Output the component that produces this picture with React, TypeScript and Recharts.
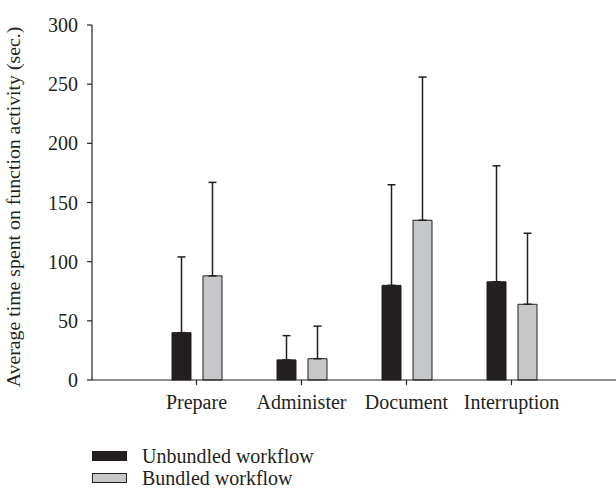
import React from 'react';
import { BarChart, Bar, XAxis, YAxis, ErrorBar, Legend } from 'recharts';

const categories = ['Prepare', 'Administer', 'Document', 'Interruption'];
const unbundledMeans = [40, 17, 80, 83];
const bundledMeans = [88, 18, 135, 64];
const unbundledSD = [64, 20.5, 85, 98];
const bundledSD = [79, 27.5, 121, 60];
const yTicks = [0, 50, 100, 150, 200, 250, 300];

const seriesNames = ['Unbundled workflow', 'Bundled workflow'];
const INK = '#231f20';
const GRAY = '#c6c7c9';
const FONT = '"Liberation Serif", "Times New Roman", serif';

const data = categories.map((c, i) => ({
  name: c,
  unbundled: unbundledMeans[i],
  bundled: bundledMeans[i],
  unbundledErr: [0, unbundledSD[i]],
  bundledErr: [0, bundledSD[i]],
}));

const tickStyle = { fontFamily: FONT, fontSize: 20, fill: INK };

const YLabel = () => {
  const cx = 13;
  const cy = 207;
  return (
    <text
      x={cx}
      y={cy}
      transform={`rotate(-90 ${cx} ${cy})`}
      textAnchor="middle"
      dominantBaseline="central"
      style={{ fontFamily: FONT, fontSize: 19.8, fill: INK }}
    >
      Average time spent on function activity (sec.)
    </text>
  );
};

const LegendContent = () => (
  <div style={{ fontFamily: FONT, fontSize: 20, color: INK }}>
    {seriesNames.map((n, i) => (
      <div key={n} style={{ display: 'flex', alignItems: 'center', height: 22 }}>
        <div
          style={{
            width: 33,
            height: 8,
            background: i === 0 ? INK : GRAY,
            border: `1px solid ${INK}`,
            marginRight: 15,
          }}
        />
        <span>{n}</span>
      </div>
    ))}
  </div>
);

export default function App() {
  return (
    <div style={{ position: 'absolute', left: 0, top: 0, background: '#fff' }}>
      <BarChart
        width={616}
        height={490}
        data={data}
        margin={{ top: 25, right: 0, left: 20, bottom: 20 }}
        barSize={19}
        barGap={12}
      >
        <XAxis
          dataKey="name"
          padding={{ left: 52, right: 52 }}
          axisLine={{ stroke: INK, strokeWidth: 1.2 }}
          tickLine={{ stroke: INK, strokeWidth: 1.2 }}
          tickSize={5}
          tickMargin={10}
          tick={tickStyle}
          height={40}
          interval={0}
        />
        <YAxis
          domain={[0, 300]}
          ticks={yTicks}
          width={72}
          axisLine={{ stroke: INK, strokeWidth: 1.2 }}
          tickLine={{ stroke: INK, strokeWidth: 1.2 }}
          tickSize={5}
          tickMargin={9}
          tick={tickStyle}
          label={{ content: YLabel }}
        />
        <Legend
          verticalAlign="bottom"
          align="left"
          content={LegendContent}
          wrapperStyle={{ left: 92, top: 445, bottom: 'auto', width: 'auto', height: 50 }}
        />
        <Bar dataKey="unbundled" name={seriesNames[0]} fill={INK} stroke={INK} strokeWidth={1} isAnimationActive={false}>
          <ErrorBar dataKey="unbundledErr" width={4} stroke={INK} strokeWidth={1.5} direction="y" />
        </Bar>
        <Bar dataKey="bundled" name={seriesNames[1]} fill={GRAY} stroke={INK} strokeWidth={1} isAnimationActive={false}>
          <ErrorBar dataKey="bundledErr" width={4} stroke={INK} strokeWidth={1.5} direction="y" />
        </Bar>
      </BarChart>
    </div>
  );
}
